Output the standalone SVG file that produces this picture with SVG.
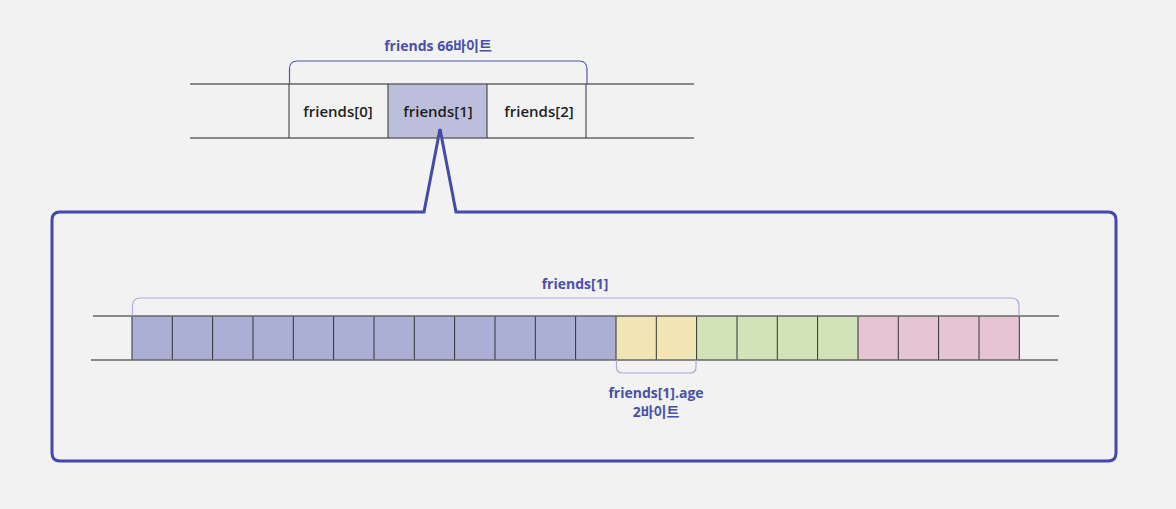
<svg xmlns="http://www.w3.org/2000/svg" width="1176" height="509" viewBox="0 0 1176 509">
<style>
.lbl{font-family:"Open Sans","Noto Sans CJK KR",sans-serif;font-weight:700;font-size:14px;fill:#4a50aa;text-anchor:middle}
.cell{font-family:"Open Sans","Noto Sans CJK KR",sans-serif;font-weight:600;font-size:15px;fill:#1e1e1e;text-anchor:middle}
.rail{stroke:#666;stroke-width:1.5;fill:none}
.c{stroke:#333;stroke-width:1}
.b{fill:#abaed5}.y{fill:#f2e5b4}.g{fill:#d0e4b8}.p{fill:#e6c4d4}
.brace{fill:none;stroke:#a9acd9;stroke-width:1.2}
</style>
<rect width="1176" height="509" fill="#f2f2f2"/>
<g id="top-array">
<rect x="388" y="84" width="99" height="54" fill="#bcbfdb"/>
<line class="rail" x1="190" y1="84" x2="694" y2="84"/>
<line class="rail" x1="190" y1="138" x2="694" y2="138"/>
<line class="c" x1="289" y1="84" x2="289" y2="138" stroke="#666"/>
<line class="c" x1="388" y1="84" x2="388" y2="138"/>
<line class="c" x1="487" y1="84" x2="487" y2="138"/>
<line class="c" x1="586" y1="84" x2="586" y2="138" stroke="#666"/>
<text class="cell" x="338" y="117">friends[0]</text>
<text class="cell" x="438" y="117">friends[1]</text>
<text class="cell" x="539" y="117">friends[2]</text>
<path d="M289.5,84 V69 Q289.5,61 297.5,61 H579 Q587,61 587,69 V84" fill="none" stroke="#5057b0" stroke-width="1.2"/>
<text class="lbl" x="438" y="51">friends 66바이트</text>
</g>
<g id="callout">
<path d="M424,212 L440,129 L456,212 H1108 Q1116,212 1116,220 V453 Q1116,461 1108,461 H60 Q52,461 52,453 V220 Q52,212 60,212 Z" fill="#f2f2f2" stroke="#434aa9" stroke-width="3" stroke-linejoin="miter"/>
</g>
<g id="bytes">
<rect class="b" x="132" y="316" width="484" height="44"/>
<rect class="y" x="616" y="316" width="80" height="44"/>
<rect class="g" x="696" y="316" width="162" height="44"/>
<rect class="p" x="858" y="316" width="161" height="44"/>
<g class="c">
<line x1="132" y1="316" x2="132" y2="360"/><line x1="172.3" y1="316" x2="172.3" y2="360"/>
<line x1="212.6" y1="316" x2="212.6" y2="360"/><line x1="253" y1="316" x2="253" y2="360"/>
<line x1="293.3" y1="316" x2="293.3" y2="360"/><line x1="333.6" y1="316" x2="333.6" y2="360"/>
<line x1="374" y1="316" x2="374" y2="360"/><line x1="414.3" y1="316" x2="414.3" y2="360"/>
<line x1="454.6" y1="316" x2="454.6" y2="360"/><line x1="495" y1="316" x2="495" y2="360"/>
<line x1="535.3" y1="316" x2="535.3" y2="360"/><line x1="575.6" y1="316" x2="575.6" y2="360"/>
<line x1="616" y1="316" x2="616" y2="360"/><line x1="656.3" y1="316" x2="656.3" y2="360"/>
<line x1="696.6" y1="316" x2="696.6" y2="360"/><line x1="737" y1="316" x2="737" y2="360"/>
<line x1="777.3" y1="316" x2="777.3" y2="360"/><line x1="817.6" y1="316" x2="817.6" y2="360"/>
<line x1="858" y1="316" x2="858" y2="360"/><line x1="898.3" y1="316" x2="898.3" y2="360"/>
<line x1="938.6" y1="316" x2="938.6" y2="360"/><line x1="979" y1="316" x2="979" y2="360"/>
<line x1="1019.3" y1="316" x2="1019.3" y2="360"/>
</g>
<line class="rail" x1="93" y1="316" x2="1059" y2="316"/>
<line class="rail" x1="91" y1="360" x2="1058" y2="360" stroke="#333"/>
<path class="brace" d="M132.5,316 V306 Q132.5,298 140.5,298 H1011 Q1019,298 1019,306 V316"/>
<text class="lbl" x="575" y="289">friends[1]</text>
<path class="brace" d="M616.5,360 V367 Q616.5,373 622.5,373 H690 Q696,373 696,367 V360"/>
<text class="lbl" x="656" y="398">friends[1].age</text>
<text class="lbl" x="656" y="417">2바이트</text>
</g>
</svg>
